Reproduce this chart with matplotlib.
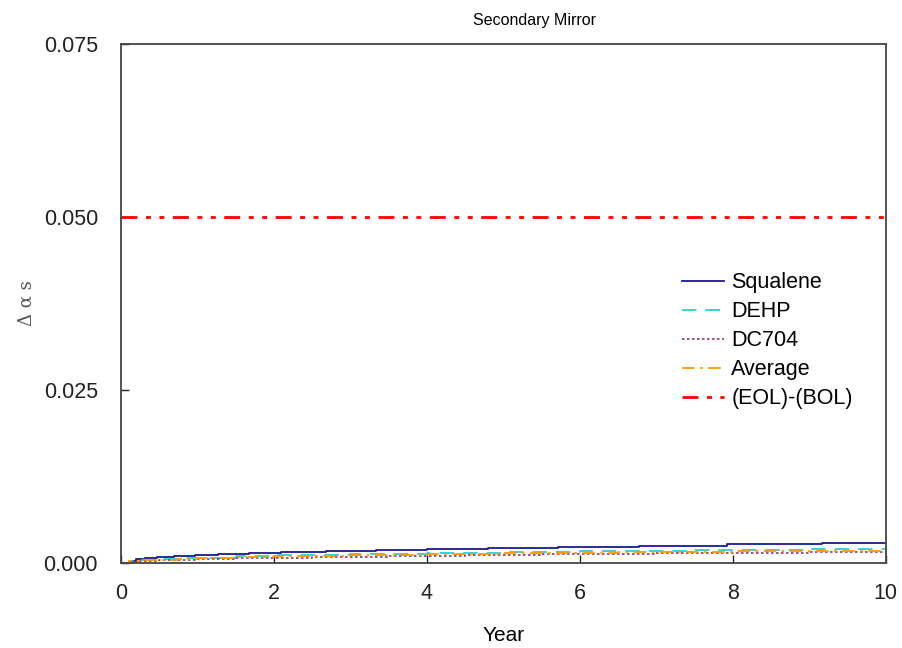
import matplotlib
matplotlib.use("Agg")
import matplotlib.pyplot as plt

plt.rcParams['font.family'] = ['Liberation Sans', 'DejaVu Sans']

# Squalene steps (year, value)
sq_years = [0, 0.14, 0.2, 0.31, 0.47, 0.7, 0.97, 1.27, 1.68, 2.09, 2.68, 3.33,
            4.0, 4.8, 5.72, 6.78, 7.93, 9.17, 10.0]
sq_vals = [0, 0.00033, 0.00053, 0.00068, 0.00082, 0.0010, 0.0012, 0.00134,
           0.0015, 0.00163, 0.00178, 0.0019, 0.00205, 0.0022, 0.00235,
           0.0025, 0.0027, 0.00285, 0.00293]

# DEHP / DC704 / Average steps
years = [0, 0.1, 0.25, 0.5, 0.75, 1.0, 1.5, 2.0, 2.5, 3.0, 3.5, 4.0, 4.5, 5.0,
         5.5, 6.0, 6.5, 7.0, 7.5, 8.0, 8.5, 9.0, 9.5, 10.0]
dehp = [0, 0.0003, 0.00045, 0.0006, 0.0007, 0.0008, 0.0010, 0.00112, 0.00122,
        0.0013, 0.00138, 0.00145, 0.00152, 0.00158, 0.00164, 0.0017, 0.00175,
        0.0018, 0.00185, 0.0019, 0.00195, 0.00199, 0.00203, 0.00206]
dc704 = [0, 0.0002, 0.0003, 0.0004, 0.0005, 0.00058, 0.0007, 0.0008, 0.00088,
         0.00095, 0.00102, 0.00108, 0.00114, 0.0012, 0.00125, 0.0013, 0.00135,
         0.0014, 0.00144, 0.00148, 0.00152, 0.00156, 0.0016, 0.00165]
average = [0, 0.00025, 0.00038, 0.0005, 0.0006, 0.0007, 0.00085, 0.00096,
           0.00105, 0.00112, 0.0012, 0.00126, 0.00133, 0.00139, 0.00145,
           0.0015, 0.00155, 0.0016, 0.00165, 0.00169, 0.00174, 0.00178,
           0.00182, 0.00186]

limit_years = [0, 10]
limit_vals = [0.05, 0.05]

fig = plt.figure(figsize=(9.02, 6.48), dpi=100)
ax = fig.add_axes([0.134, 0.131, 0.848, 0.801])

ax.plot(sq_years, sq_vals, drawstyle='steps-post', color='#1a1a8c', lw=1.3,
        label='Squalene')
ax.plot(years, dehp, drawstyle='steps-post', color='#33cccc', lw=1.3,
        dashes=(8, 5), label='DEHP')
ax.plot(years, dc704, drawstyle='steps-post', color='#993366', lw=1.2,
        dashes=(1.5, 1.5), label='DC704')
ax.plot(years, average, drawstyle='steps-post', color='#ff9900', lw=1.3,
        dashes=(7, 3, 1.5, 3), label='Average')
ax.plot(limit_years, limit_vals, color='#ff0000', lw=2.0,
        dashes=(5.75, 3.05, 1.8, 3.05, 1.8, 3.05), label='(EOL)-(BOL)')

ax.set_xlim(0, 10)
ax.set_ylim(0, 0.075)
ax.set_xticks([0, 2, 4, 6, 8, 10])
ax.set_yticks([0, 0.025, 0.05, 0.075])
ax.set_yticklabels(['0.000', '0.025', '0.050', '0.075'])
ax.tick_params(direction='in', length=6, width=1, labelsize=15.5,
               colors='#222222')
ax.tick_params(axis='x', pad=14)
ax.tick_params(axis='y', pad=16.5)
for s in ax.spines.values():
    s.set_color('#444444')
    s.set_linewidth(1.3)

ax.set_xlabel('Year', fontsize=15, labelpad=16)
ax.set_ylabel('Δ α s', fontsize=13, color='#555555', labelpad=6,
              family=['DejaVu Serif'])
ax.set_title('Secondary Mirror', fontsize=11.5, pad=14, x=0.541)

ax.legend(loc='center left', bbox_to_anchor=(0.735, 0.474),
          bbox_transform=fig.transFigure, frameon=False, fontsize=15.5,
          handlelength=1.95, handletextpad=0.33, labelspacing=0.37)

fig.savefig('out.png', dpi=100)
